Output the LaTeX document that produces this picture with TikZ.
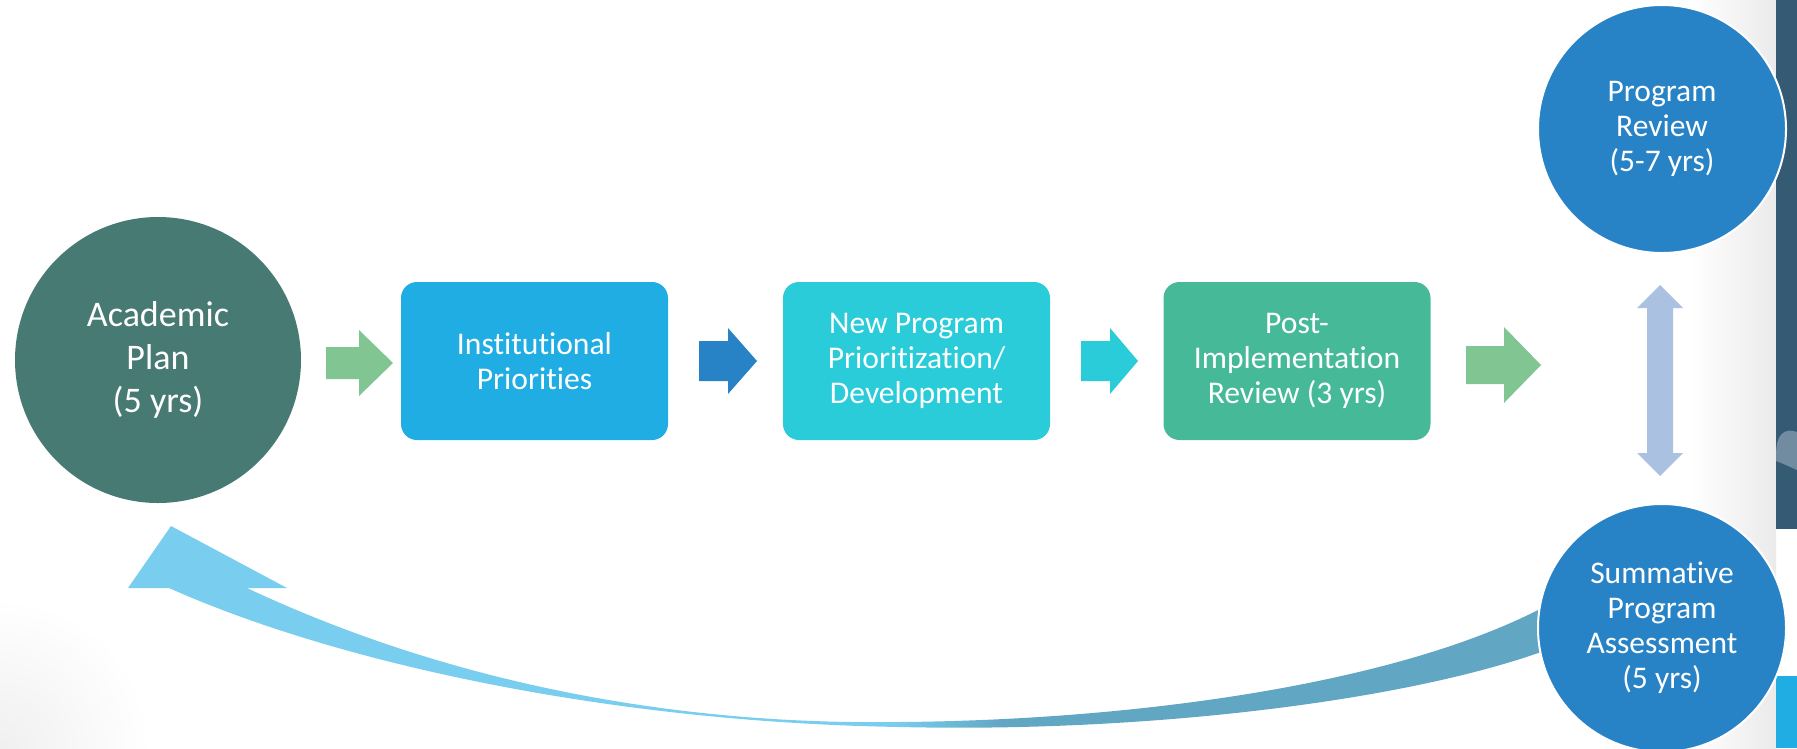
\documentclass[tikz,border=0pt]{standalone}
\usepackage{fontspec}
\setmainfont{Carlito}[Ligatures={TeX,NoCommon}]
\usetikzlibrary{calc,positioning}

\definecolor{acadcol}{HTML}{487A74}
\definecolor{instcol}{HTML}{20ADE3}
\definecolor{newcol}{HTML}{29CCD8}
\definecolor{postcol}{HTML}{46BA98}
\definecolor{revcol}{HTML}{2883C6}
\definecolor{arrgreen}{HTML}{80C592}
\definecolor{arrblue}{HTML}{2882C6}
\definecolor{dblcol}{HTML}{AAC1E1}
\definecolor{bandlight}{HTML}{79CEEF}
\definecolor{banddark}{HTML}{61A6C3}
\definecolor{barcol}{HTML}{345B73}
\definecolor{swooshcol}{HTML}{718CA0}

\pgfdeclarehorizontalshading{bandshade}{100bp}{color(0bp)=(bandlight); color(51bp)=(bandlight); color(55bp)=(banddark); color(100bp)=(banddark)}

\tikzset{
    stepcircle/.style={circle, minimum size=#1, inner sep=0pt, text=white, align=center},
    stepbox/.style={rounded corners=16pt, minimum width=267pt, minimum height=158pt, inner sep=0pt,
        text=white, align=center, font=\fontsize{31.6}{35}\selectfont}
}

\begin{document}
\begin{tikzpicture}[x=1pt,y=-1pt]
    \useasboundingbox (0,0) rectangle (1797,748);
    \shade[left color=white, right color=black!8] (1690,0) rectangle (1776,748);
    \shade[inner color=black!6, outer color=white] (0,748) circle (150);
    \fill[barcol] (1776,0) rectangle (1797,529);
    \fill[swooshcol] (1776,455) .. controls (1776,432) and (1786,428) .. (1797,432)
        -- (1797,470) .. controls (1790,467) and (1782,463) .. (1776,461) -- cycle;
    \fill[instcol] (1776,676) rectangle (1797,748);

    \shade[shading=bandshade] (169,588) .. controls (330,660) and (600,722) .. (900,727)
        .. controls (1150,733) and (1420,700) .. (1560,645) -- (1560,598)
        .. controls (1420,680) and (1150,720) .. (900,722)
        .. controls (620,726) and (400,660) .. (247,588) -- cycle;
    \fill[bandlight] (128,588) -- (171,526) -- (287,588) -- cycle;

    \node[stepcircle=286pt, fill=acadcol, font=\fontsize{36}{43}\selectfont] (acad) at (158,360) {Academic\\Plan\\(5 yrs)};
    \node[stepbox, fill=instcol] (inst) at (534.5,361) {Institutional\\Priorities};
    \node[stepbox, fill=newcol] (newprog) at (916.5,361) {New Program\\Prioritization/\\Development};
    \node[stepbox, fill=postcol] (post) at (1297,361) {Post-\\Implementation\\Review (3 yrs)};
    \node[stepcircle=248pt, fill=revcol, draw=white, line width=2pt, font=\fontsize{31.5}{35}\selectfont] (review) at (1662,129) {Program\\Review\\(5-7 yrs)};
    \node[stepcircle=248pt, fill=revcol, draw=white, line width=2pt, font=\fontsize{31.5}{35}\selectfont] (summ) at (1662,628) {Summative\\Program\\Assessment\\(5 yrs)};

    \foreach \xa/\xb/\xc/\sh/\hh/\yc/\col in
    {326/359/393/16/33/363/arrgreen,
        699/728/757/20/33/361/arrblue,
        1081/1110/1138/20/33/361/newcol,
        1466/1504/1541/19/38/365/arrgreen}
    {
        \fill[\col] (\xa,\yc-\sh) -- (\xb,\yc-\sh) -- (\xb,\yc-\hh) -- (\xc,\yc)
            -- (\xb,\yc+\hh) -- (\xb,\yc+\sh) -- (\xa,\yc+\sh) -- cycle;
    };

    \fill[dblcol] (1660,285) -- (1683,308) -- (1673,308) -- (1673,453) -- (1683,453) -- (1660,476)
        -- (1637,453) -- (1647,453) -- (1647,308) -- (1637,308) -- cycle;
\end{tikzpicture}
\end{document}
